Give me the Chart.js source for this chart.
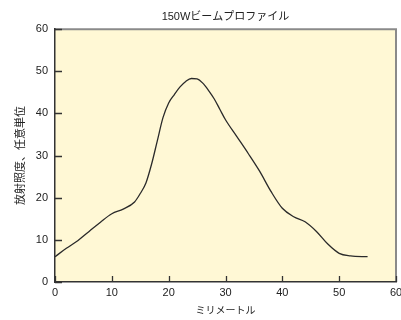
<!DOCTYPE html>
<html>
<head>
<meta charset="utf-8">
<script src="https://cdn.jsdelivr.net/npm/chart.js@4"></script>
<style>
  html, body { margin: 0; padding: 0; background: #fff; }
  #wrap { width: 401px; height: 320px; }
</style>
</head>
<body>
<div id="wrap"><canvas id="beam" width="401" height="320"></canvas></div>
<script>
'use strict';

// 位置 (mm) と放射照度 — 図から読み取った値
const mm = [0, 2, 4, 6, 8, 10, 12, 14, 15, 16, 17, 18, 19, 20, 21, 22, 23, 24, 25, 26, 27, 28, 29, 30, 32, 34, 36, 38, 40, 42, 44, 46, 48, 50, 52, 55];
const irradiance = [6, 8, 9.8, 12, 14.2, 16.2, 17.3, 19, 21, 23.5, 28, 33.5, 39, 42.5, 44.5, 46.3, 47.6, 48.3, 48.2, 47.2, 45.5, 43.5, 41, 38.5, 34.5, 30.5, 26.3, 21.5, 17.5, 15.5, 14.3, 12, 9, 6.8, 6.2, 6];
const xTicks = [0, 10, 20, 30, 40, 50, 60];
const yTicks = [0, 10, 20, 30, 40, 50, 60];

const FONT = "'Liberation Sans', 'Noto Sans CJK JP', sans-serif";

// プロット領域の背景と上・右の枠線
const plotBox = {
    id: 'plotBox',
    beforeDraw(chart) {
        const a = chart.chartArea;
        const ctx = chart.ctx;
        ctx.save();
        ctx.fillStyle = '#fff8d5';
        ctx.fillRect(a.left, a.top, a.right - a.left, a.bottom - a.top);
        ctx.strokeStyle = '#8a8a8a';
        ctx.lineWidth = 2;
        ctx.beginPath();
        ctx.moveTo(a.left, a.top);
        ctx.lineTo(a.right, a.top);
        ctx.lineTo(a.right, a.bottom);
        ctx.stroke();
        ctx.restore();
    }
};

// 内向きの目盛り線
const innerTicks = {
    id: 'innerTicks',
    afterDraw(chart) {
        const a = chart.chartArea;
        const ctx = chart.ctx;
        const x = chart.scales.x;
        const y = chart.scales.y;
        ctx.save();
        ctx.strokeStyle = '#333';
        ctx.lineWidth = 1.3;
        ctx.beginPath();
        x.ticks.forEach(t => {
            const px = Math.round(x.getPixelForValue(t.value)) + 0.5;
            ctx.moveTo(px, a.bottom);
            ctx.lineTo(px, a.bottom - 6);
        });
        y.ticks.forEach(t => {
            const py = Math.round(y.getPixelForValue(t.value)) + 0.5;
            ctx.moveTo(a.left, py);
            ctx.lineTo(a.left + 7, py);
        });
        ctx.stroke();
        ctx.restore();
    }
};

const points = mm.map((x, i) => ({ x: x, y: irradiance[i] }));

new Chart(document.getElementById('beam'), {
    type: 'line',
    data: {
        datasets: [{
            data: points,
            borderColor: '#2a2a2a',
            borderWidth: 1.3,
            pointRadius: 0,
            fill: false,
            cubicInterpolationMode: 'monotone'
        }]
    },
    options: {
        responsive: false,
        animation: false,
        layout: { padding: { left: 0, right: 0, top: 0, bottom: 0 } },
        plugins: {
            legend: { display: false },
            tooltip: { enabled: false },
            title: {
                display: true,
                fullSize: false,
                text: '150Wビームプロファイル',
                color: '#222',
                font: { family: FONT, size: 11, weight: 'normal' },
                padding: { top: 10, bottom: 6 }
            }
        },
        scales: {
            x: {
                type: 'linear',
                min: 0,
                max: 60,
                afterBuildTicks: s => { s.ticks = xTicks.map(v => ({ value: v })); },
                afterFit: s => { s.height = 38; s.paddingRight = 5; },
                grid: { display: false, drawTicks: false },
                border: { display: true, color: '#333', width: 1.5 },
                ticks: { color: '#222', font: { family: FONT, size: 11 }, padding: 4, maxRotation: 0 },
                title: {
                    display: true,
                    text: 'ミリメートル',
                    color: '#222',
                    font: { family: FONT, size: 10 },
                    padding: { top: 0, bottom: 3 }
                }
            },
            y: {
                type: 'linear',
                min: 0,
                max: 60,
                afterBuildTicks: s => { s.ticks = yTicks.map(v => ({ value: v })); },
                afterFit: s => { s.width = 55; },
                grid: { display: false, drawTicks: false },
                border: { display: true, color: '#333', width: 1.5 },
                ticks: { color: '#222', font: { family: FONT, size: 11 }, padding: 7 },
                title: {
                    display: true,
                    text: '放射照度、任意単位',
                    color: '#222',
                    font: { family: FONT, size: 11 },
                    padding: { top: 14, bottom: 0 }
                }
            }
        }
    },
    plugins: [plotBox, innerTicks]
});
</script>
</body>
</html>
